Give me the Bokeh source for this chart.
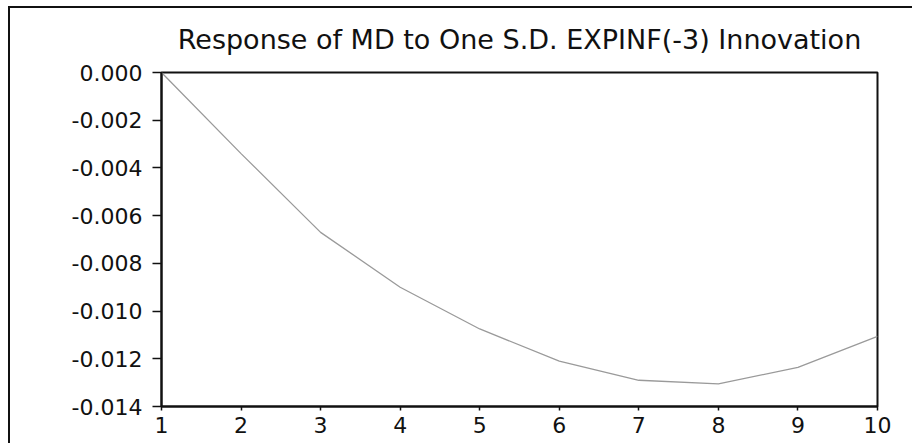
from bokeh.plotting import figure
from bokeh.models import FixedTicker, NumeralTickFormatter, Range1d
from bokeh.embed import file_html
from bokeh.resources import INLINE

# Data
periods = [1, 2, 3, 4, 5, 6, 7, 8, 9, 10]
response = [0.0, -0.0034, -0.0067, -0.0090, -0.01075, -0.0121, -0.0129, -0.01305, -0.01236, -0.01106]
y_ticks = [0.0, -0.002, -0.004, -0.006, -0.008, -0.010, -0.012, -0.014]
title_text = "Response of MD to One S.D. EXPINF(-3) Innovation"

FONT = "DejaVu Sans"

p = figure(
    frame_width=716, frame_height=334,
    min_border_left=151, min_border_right=35,
    min_border_top=64, min_border_bottom=37,
    x_range=Range1d(1, 10), y_range=Range1d(-0.014, 0.0),
    output_backend="svg", toolbar_location=None,
    title=title_text,
)
p.styles = {"border-left": "2px solid #111", "border-top": "2px solid #111",
            "margin-left": "8px", "margin-top": "6px"}

p.title.align = "center"
p.title.vertical_align = "top"
p.title.text_font = FONT
p.title.text_font_size = "27px"
p.title.text_font_style = "normal"
p.title.text_color = "#111111"
p.title.standoff = 31

p.grid.visible = False
p.background_fill_color = "white"
p.border_fill_color = "white"
p.outline_line_color = "#111111"
p.outline_line_width = 2
p.outline_line_alpha = 1.0

p.line(periods, response, line_color="#9a9a9a", line_width=1.3)

p.xaxis.ticker = FixedTicker(ticks=periods)
p.yaxis.ticker = FixedTicker(ticks=y_ticks)
p.yaxis.formatter = NumeralTickFormatter(format="0.000")

for ax in (p.xaxis[0], p.yaxis[0]):
    ax.axis_line_color = "#111111"
    ax.axis_line_width = 2
    ax.major_tick_line_color = "#111111"
    ax.major_tick_line_width = 1.5
    ax.major_tick_in = 0
    ax.minor_tick_line_color = None
    ax.major_label_text_font = FONT
    ax.major_label_text_font_size = "22px"
    ax.major_label_text_color = "#111111"

p.yaxis.major_tick_out = 9
p.yaxis.major_label_standoff = 10
p.xaxis.major_tick_out = 4
p.xaxis.major_label_standoff = 6

open("out.html", "w").write(file_html(p, INLINE))
